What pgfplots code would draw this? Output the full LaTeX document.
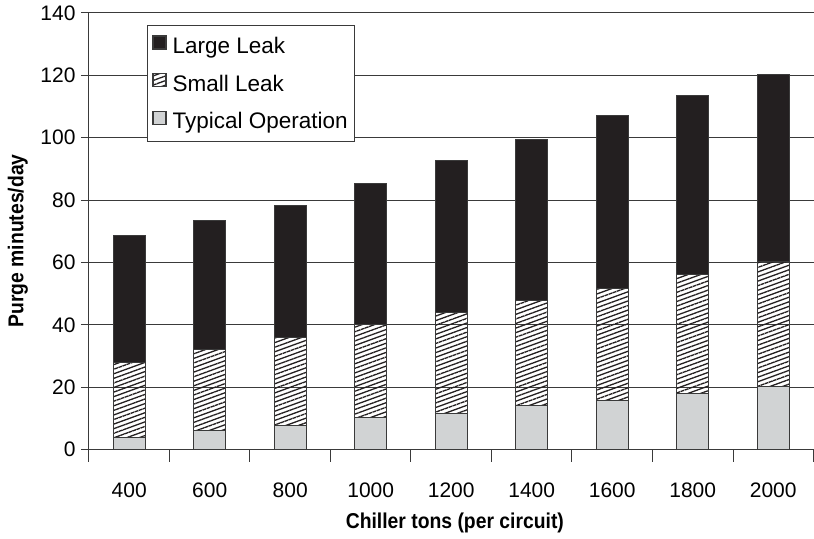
\documentclass[border=0pt]{standalone}
\usepackage{fontspec}
\setmainfont{Liberation Sans}
\newfontfamily\labelfont[FakeStretch=0.9]{Liberation Sans}
\usepackage{pgfplots}
\pgfplotsset{compat=1.18}
\usetikzlibrary{patterns.meta}

\definecolor{barblack}{HTML}{231F20}
\definecolor{bargray}{HTML}{D1D3D4}
\definecolor{edge}{HTML}{3A3A3A}

\pgfplotstableread{
x typical small large
0 3.8 24.3 40.7
1 6.3 25.8 41.5
2 7.8 28.2 42.3
3 10.2 29.8 45.4
4 11.7 32.2 48.9
5 14.2 33.5 51.9
6 15.7 36.0 55.3
7 18.0 38.2 57.5
8 20.3 39.9 60.2
}\datatable

\begin{document}
\begin{tikzpicture}
\begin{axis}[
  scale only axis,
  width=725bp, height=437bp,
  ybar stacked,
  bar width=0.4,
  xmin=-0.5, xmax=8.5,
  ymin=0, ymax=140,
  ytick={0,20,...,140},
  xtick={0,...,8},
  xticklabels={400,600,800,1000,1200,1400,1600,1800,2000},
  minor xtick={-0.5,0.5,...,8.5},
  axis x line*=bottom,
  axis y line*=left,
  ymajorgrids,
  grid style={edge, line width=1bp},
  axis line style={edge, line width=1bp},
  tick style={edge, line width=1bp},
  major x tick style={draw=none},
  tick align=outside,
  major tick length=8bp,
  minor tick length=12bp,
  /pgf/number format/assume math mode=true,
  ticklabel style={font=\fontsize{21bp}{24bp}\selectfont},
  xticklabel style={yshift=-22bp},
  yticklabel style={xshift=-2bp},
  xlabel={Chiller tons (per circuit)},
  ylabel={Purge minutes/day},
  xlabel style={font=\labelfont\bfseries\fontsize{21.5bp}{25bp}\selectfont, at={(axis description cs:0.505,-0.167)}, anchor=center},
  ylabel style={font=\labelfont\bfseries\fontsize{21.5bp}{25bp}\selectfont, at={(axis description cs:-0.098,0.478)}, anchor=center, rotate=0},
  reverse legend,
  legend cell align=left,
  legend style={at={(0.08,0.9725)}, anchor=north west, draw=edge, line width=1bp, fill=white,
    font=\fontsize{22.5bp}{26bp}\selectfont, row sep=16bp, inner xsep=5bp, inner ysep=9.5bp,
    /tikz/every odd column/.append style={column sep=4bp}},
  sq/.style={legend image code/.code={\draw[##1, line width=1.3bp] (2bp,-3bp) rectangle (15bp,10bp);}},
]
\addplot[fill=bargray, draw=edge, line width=1bp, sq] table[x=x, y=typical] {\datatable};
\addplot[pattern={Lines[angle=20, distance=4.3bp, line width=1.3bp]}, pattern color=barblack, draw=edge, line width=1bp, sq] table[x=x, y=small] {\datatable};
\addplot[fill=barblack, draw=edge, line width=1bp, sq] table[x=x, y=large] {\datatable};
\legend{Typical Operation, Small Leak, Large Leak}
\end{axis}
\path ([xshift=-89bp,yshift=-89bp]current axis.south west) rectangle ([yshift=13bp]current axis.north east);
\end{tikzpicture}
\end{document}
